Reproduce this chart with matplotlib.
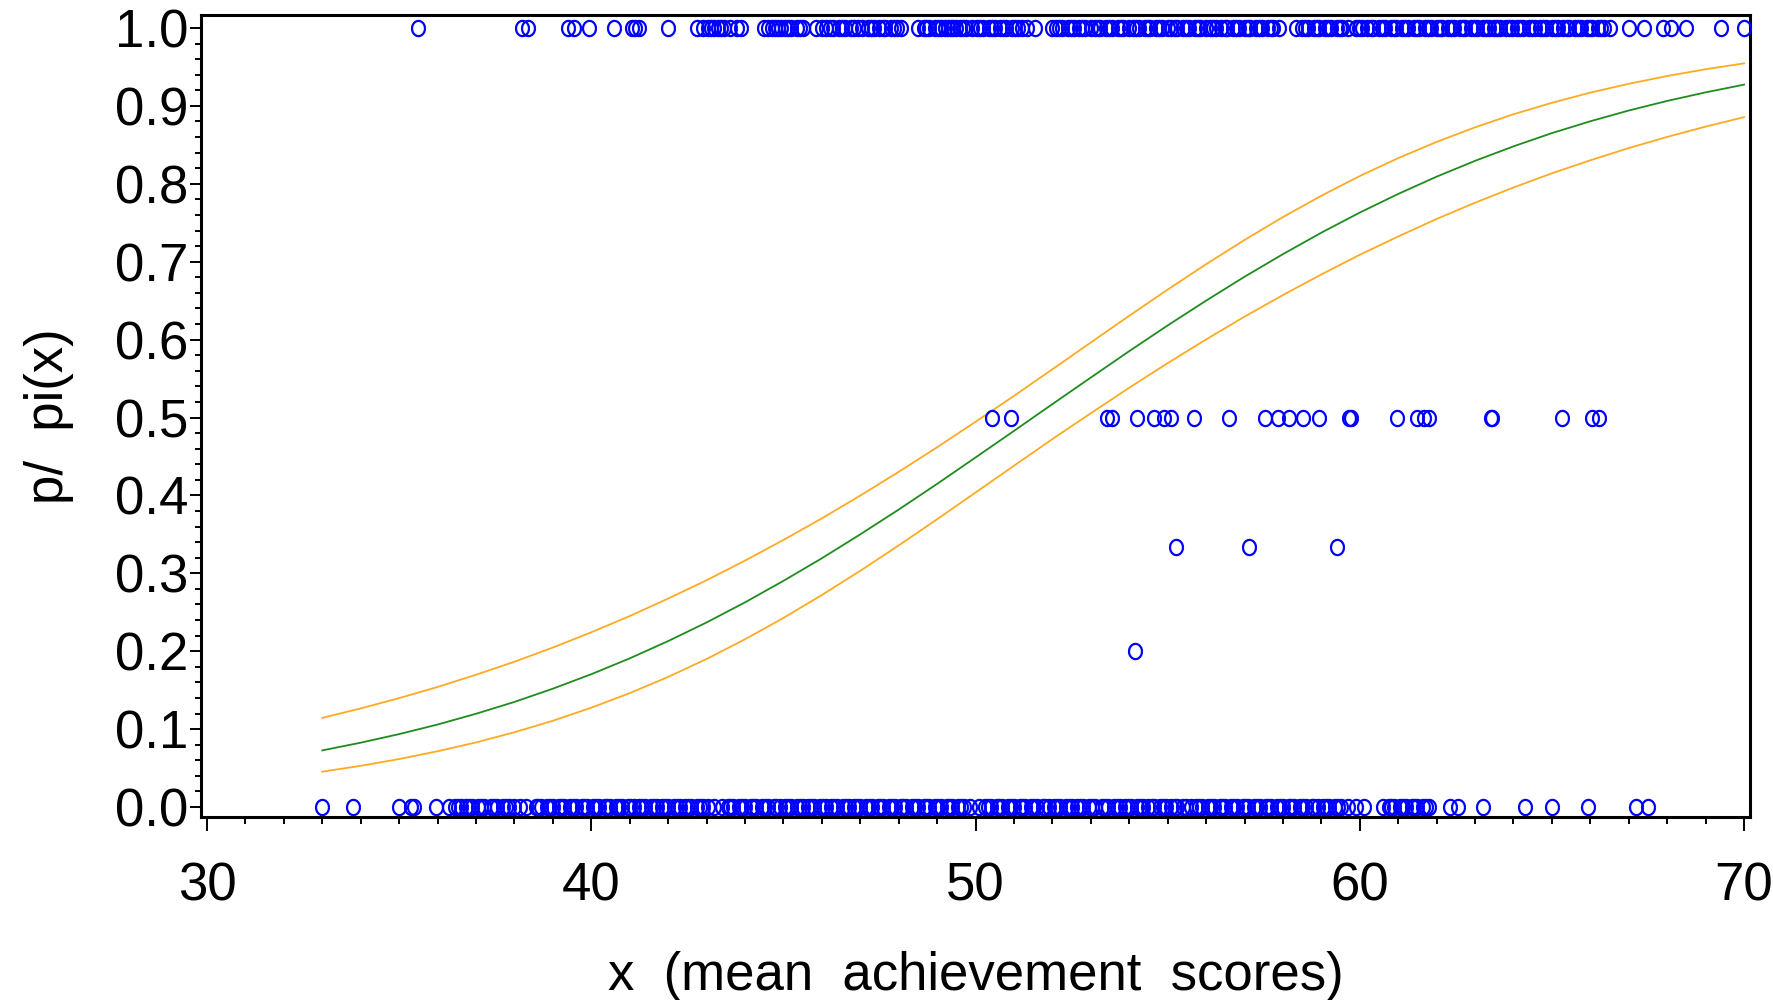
"""
Fitted logistic curve with 95% band and observed proportions
(SAS-style plot recreated with matplotlib)
"""

import numpy as np
import matplotlib
matplotlib.use("Agg")
import matplotlib.pyplot as plt
from matplotlib.ticker import MultipleLocator, FormatStrFormatter

# ============================================================
# Data
# ============================================================
# observed proportions p at each mean achievement score x
top_x = [
    35.5, 38.2, 38.35, 39.4, 39.55, 39.95, 40.6, 41.05, 41.15, 41.25, 42.0,
    42.75, 42.9, 43.05, 43.2, 43.3, 43.45, 43.6, 43.8, 43.9,
    44.5, 44.6, 44.7, 44.85, 44.95, 45.05, 45.2, 45.35, 45.5,
    45.85, 46.0, 46.1, 46.3, 46.45, 46.6, 46.75, 46.85, 47.05, 47.2, 47.35,
    47.5, 47.65, 47.8, 47.95, 48.05,
    48.5, 48.65, 48.8, 48.95, 49.1, 49.2, 49.35, 49.5, 49.6, 49.75, 49.9,
    50.05, 50.2, 50.35, 50.5, 50.65, 50.8, 50.95, 51.1, 51.2, 51.35, 51.55,
    52.0, 52.1, 52.25, 52.4, 52.55, 52.7, 52.85, 53.0, 53.1, 53.25, 53.4,
    53.55, 53.7, 53.85, 54.0, 54.1, 54.25, 54.4, 54.55, 54.7, 54.85, 55.0,
    55.1, 55.25, 55.4, 55.55, 55.7, 55.85, 56.0, 56.1, 56.25, 56.4, 56.55,
    56.7, 56.85, 57.0, 57.15, 57.3, 57.45, 57.6, 57.75, 57.9,
    58.35, 58.5, 58.65, 58.8, 58.95, 59.1, 59.25, 59.4, 59.55, 59.7, 59.9,
    60.05, 60.2, 60.35, 60.5, 60.65, 60.8, 60.95, 61.1, 61.25, 61.4, 61.55,
    61.7, 61.85, 62.0, 62.15, 62.3, 62.45, 62.6, 62.75, 62.9, 63.05, 63.2,
    63.35, 63.5, 63.65, 63.8, 63.95, 64.1, 64.25, 64.4, 64.55, 64.7, 64.85,
    65.0, 65.15, 65.3, 65.45, 65.6, 65.75, 65.9, 66.05, 66.2, 66.35, 66.5,
    67.0, 67.4, 67.9, 68.1, 68.5, 69.4, 70.0,
    # overlapping scores inside the dense runs
    43.12, 43.38, 44.78, 45.12, 45.42, 46.2, 46.52, 46.95, 47.28, 47.58,
    47.88, 48.72, 49.02, 49.28, 49.42, 49.68, 50.12, 50.42, 50.72, 51.02,
    52.18, 52.48, 52.78, 53.18, 53.48, 53.78, 54.18, 54.48, 54.78, 55.18,
    55.48, 55.78, 56.18, 56.48, 56.78, 57.08, 57.38, 57.68, 58.58, 58.88,
    59.18, 59.48, 59.98, 60.28, 60.58, 60.88, 61.18, 61.48, 61.78, 62.08,
    62.38, 62.68, 62.98, 63.28, 63.58, 63.88, 64.18, 64.48, 64.78, 65.08,
    65.38, 65.68, 65.98, 66.28,
]

bottom_x = [
    33.0, 33.8, 35.0, 35.3, 35.4, 35.95,
    36.3, 36.45, 36.6, 36.75, 36.9, 37.05, 37.2, 37.4, 37.55, 37.7, 37.85,
    38.0, 38.15, 38.3,
    38.55, 38.7, 38.85, 39.0, 39.15, 39.3, 39.45, 39.6, 39.75, 39.9, 40.05,
    40.2, 40.35, 40.5, 40.65, 40.8, 40.95, 41.1, 41.25, 41.4, 41.55, 41.7,
    41.85, 42.0, 42.15, 42.3, 42.45, 42.6, 42.75, 42.9, 43.05, 43.2, 43.4,
    43.55, 43.7, 43.85, 44.0, 44.15, 44.3, 44.45, 44.6, 44.75, 44.9, 45.05,
    45.2, 45.35, 45.5, 45.65, 45.8, 45.95, 46.1, 46.25, 46.4, 46.55, 46.7,
    46.85, 47.0, 47.15, 47.3, 47.45, 47.6, 47.75, 47.9, 48.05, 48.2, 48.35,
    48.5, 48.65, 48.8, 48.95, 49.1, 49.25, 49.4, 49.55, 49.7, 49.85,
    50.1, 50.25, 50.4, 50.55, 50.7, 50.85, 51.0, 51.15, 51.3, 51.45, 51.6,
    51.75, 51.9, 52.05, 52.2, 52.35, 52.5, 52.65, 52.8, 52.95, 53.1, 53.3,
    53.45, 53.6, 53.75, 53.9, 54.05, 54.2, 54.35, 54.5, 54.65, 54.8, 54.95,
    55.1, 55.25, 55.4, 55.6, 55.75, 55.9, 56.05, 56.2, 56.35, 56.5, 56.65,
    56.8, 56.95, 57.1, 57.25, 57.4, 57.55, 57.7, 57.85, 58.0, 58.15, 58.3,
    58.45, 58.6, 58.75, 58.9, 59.05, 59.2, 59.35, 59.5, 59.7, 59.9, 60.1,
    60.6, 60.75, 60.9, 61.05, 61.2, 61.35, 61.5, 61.65, 61.8,
    62.35, 62.55, 63.2, 64.3, 65.0, 65.95, 67.2, 67.5,
    # overlapping scores inside the dense runs
    36.52, 36.82, 37.12, 37.48, 37.78, 38.62, 38.92, 39.22, 39.52, 39.82,
    40.12, 40.42, 40.72, 41.02, 41.32, 41.62, 41.92, 42.22, 42.52, 42.82,
    43.62, 43.92, 44.22, 44.52, 44.82, 45.12, 45.42, 45.72, 46.02, 46.32,
    46.62, 46.92, 47.22, 47.52, 47.82, 48.12, 48.42, 48.72, 49.02, 49.32,
    49.62, 50.32, 50.62, 50.92, 51.22, 51.52, 51.82, 52.12, 52.42, 52.72,
    53.02, 53.38, 53.68, 53.98, 54.28, 54.58, 54.88, 55.18, 55.48, 55.82,
    56.12, 56.42, 56.72, 57.02, 57.32, 57.62, 57.92, 58.22, 58.52, 58.82,
    59.12, 59.42, 60.82, 61.12, 61.42, 61.72,
]

half_x = [
    50.42, 50.92, 53.41, 53.56, 54.2, 54.64, 54.9, 55.08, 55.68, 56.6,
    57.54, 57.88, 58.17, 58.53, 58.94, 59.72, 59.76, 60.97, 61.5, 61.67,
    61.79, 63.41, 63.44, 65.27, 66.03, 66.22,
]
third_x = [55.22, 57.11, 59.4]
fifth_x = [54.15]

# fitted pi(x) and confidence limits
curve_x = [
    33, 34, 35, 36, 37, 38, 39, 40, 41, 42, 43, 44, 45, 46, 47, 48, 49, 50,
    51, 52, 53, 54, 55, 56, 57, 58, 59, 60, 61, 62, 63, 64, 65, 66, 67, 68,
    69, 70,
]
fit_p = [
    0.0727, 0.0826, 0.0936, 0.1059, 0.1197, 0.1349, 0.1519, 0.1705, 0.1908,
    0.2130, 0.2369, 0.2627, 0.2903, 0.3193, 0.3500, 0.3818, 0.4148, 0.4487,
    0.4828, 0.5172, 0.5513, 0.5852, 0.6182, 0.6500, 0.6807, 0.7097, 0.7373,
    0.7631, 0.7870, 0.8092, 0.8295, 0.8481, 0.8651, 0.8803, 0.8941, 0.9064,
    0.9174, 0.9273,
]
upper_p = [
    0.1144, 0.1266, 0.1398, 0.1541, 0.1698, 0.1865, 0.2047, 0.2243, 0.2451,
    0.2676, 0.2911, 0.3163, 0.3428, 0.3705, 0.3998, 0.4302, 0.4618, 0.4945,
    0.5277, 0.5619, 0.5963, 0.6306, 0.6642, 0.6968, 0.7279, 0.7573, 0.7847,
    0.8100, 0.8330, 0.8538, 0.8725, 0.8893, 0.9040, 0.9171, 0.9284, 0.9384,
    0.9471, 0.9546,
]
lower_p = [
    0.0454, 0.0529, 0.0616, 0.0716, 0.0829, 0.0960, 0.1107, 0.1275, 0.1462,
    0.1670, 0.1900, 0.2153, 0.2427, 0.2721, 0.3032, 0.3358, 0.3694, 0.4037,
    0.4381, 0.4723, 0.5055, 0.5382, 0.5698, 0.6002, 0.6295, 0.6572, 0.6837,
    0.7089, 0.7324, 0.7549, 0.7757, 0.7953, 0.8135, 0.8302, 0.8459, 0.8602,
    0.8734, 0.8856,
]

plt.rcParams['font.family'] = ['Liberation Sans', 'DejaVu Sans']

fig = plt.figure(figsize=(17.74, 10), dpi=100)
ax = fig.add_axes([0.1133, 0.183, 0.8732, 0.802])

# bands and fitted curve
ax.plot(curve_x, upper_p, color='#FFAA22', lw=1.3, zorder=2)
ax.plot(curve_x, lower_p, color='#FFAA22', lw=1.3, zorder=2)
ax.plot(curve_x, fit_p, color='#1E8C1E', lw=1.3, zorder=3)

# SAS draws the circle symbol a little taller than wide
t = np.linspace(0, 2 * np.pi, 25)
oval = list(zip(0.85 * np.cos(t), np.sin(t)))

groups = [(top_x, 1.0), (bottom_x, 0.0), (half_x, 0.5), (third_x, 1 / 3), (fifth_x, 0.2)]
for xs, p in groups:
    ax.plot(xs, [p] * len(xs), linestyle='none', marker=oval, markersize=11,
            markerfacecolor='none', markeredgecolor='#0000FF',
            markeredgewidth=1.6, zorder=4, clip_on=False)

ax.set_xlim(29.844, 70.156)
ax.set_ylim(-0.0128, 1.0167)

ax.xaxis.set_major_locator(MultipleLocator(10))
ax.xaxis.set_minor_locator(MultipleLocator(1))
ax.yaxis.set_major_locator(MultipleLocator(0.1))
ax.yaxis.set_minor_locator(MultipleLocator(0.02))
ax.yaxis.set_major_formatter(FormatStrFormatter('%.1f'))

for side in ['left', 'right', 'top', 'bottom']:
    ax.spines[side].set_linewidth(2.2)

ax.tick_params(axis='both', which='both', direction='out', width=1.4,
               top=False, right=False, labelsize=38)
ax.tick_params(axis='x', which='major', length=10, pad=22)
ax.tick_params(axis='x', which='minor', length=5)
ax.tick_params(axis='y', which='major', length=8, pad=1)
ax.tick_params(axis='y', which='minor', length=4.5)

fig.text(0.5499, 0.024, 'x  (mean  achievement  scores)', fontsize=38,
         ha='center', va='center')
fig.text(0.0276, 0.584, 'p/  pi(x)', fontsize=38, rotation=90,
         ha='center', va='center')

fig.savefig('out.png', dpi=100)
